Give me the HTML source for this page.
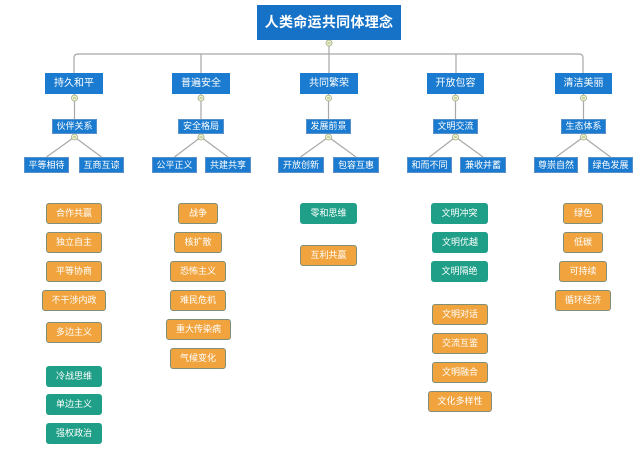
<!DOCTYPE html>
<html><head><meta charset="utf-8"><style>
html,body{margin:0;padding:0;background:#fff;}
body{width:642px;height:453px;position:relative;overflow:hidden;font-family:"Liberation Sans","Noto Sans CJK SC",sans-serif;}
.b{position:absolute;box-sizing:border-box;color:#fff;text-align:center;white-space:nowrap;}
.m{background:#1a7bd0;height:21px;line-height:21px;font-size:10px;}
.s{background:#1a7bd0;height:15px;line-height:13px;font-size:9px;border:1px solid #5a90c8;}
.l{background:#1a7bd0;height:16px;line-height:14px;font-size:9px;border:1px solid #5a90c8;}
.o{background:#f1a43e;border:1.5px solid #7f8f78;border-radius:3px;height:21px;line-height:18px;font-size:9px;}
.t{background:#1f9f87;border-radius:3px;height:21px;line-height:21px;font-size:9px;}
svg{position:absolute;left:0;top:0;}
</style></head><body>
<svg width="642" height="453" viewBox="0 0 642 453">
<g stroke="#a8a8a8" stroke-width="1.2" fill="none">
<path d="M329,40 V54"/>
<path d="M74,73 V58 Q74,54 78,54 H579 Q583,54 583,58 V73"/>
<path d="M201,54 V73 M329,54 V73 M456,54 V73"/>
<path d="M74.5,94 V119 M201,94 V119 M328.5,94 V119 M455.5,94 V119 M583.5,94 V119"/>
<path d="M74.5,137 L46.5,157 M74.5,137 L101.5,157"/>
<path d="M201,137 L174.5,157 M201,137 L228,157"/>
<path d="M328.5,137 L300.5,157 M328.5,137 L356,157"/>
<path d="M455.5,137 L429.5,157 M455.5,137 L483,157"/>
<path d="M583.5,137 L556,157 M583.5,137 L610.5,157"/>
</g>
<g fill="#eef3c8" stroke="#9aa88a" stroke-width="0.8">
<circle cx="329" cy="43" r="3"/>
<circle cx="74.5" cy="98" r="3"/><circle cx="201" cy="98" r="3"/><circle cx="328.5" cy="98" r="3"/><circle cx="455.5" cy="98" r="3"/><circle cx="583.5" cy="98" r="3"/>
<circle cx="74.5" cy="137" r="3"/><circle cx="201" cy="137" r="3"/><circle cx="328.5" cy="137" r="3"/><circle cx="455.5" cy="137" r="3"/><circle cx="583.5" cy="137" r="3"/>
</g>
<g stroke="#8a9a70" stroke-width="0.8">
<path d="M327.5,43 H330.5 M73,98 H76 M199.5,98 H202.5 M327,98 H330 M454,98 H457 M582,98 H585 M73,137 H76 M199.5,137 H202.5 M327,137 H330 M454,137 H457 M582,137 H585"/>
</g>
</svg>

<div class="b" style="left:257px;top:5px;width:144px;height:35px;line-height:35px;background:#1672c6;font-size:14px;font-weight:bold;letter-spacing:0.3px;">人类命运共同体理念</div>

<div class="b m" style="left:45px;top:73px;width:58px;">持久和平</div>
<div class="b m" style="left:172px;top:73px;width:58px;">普遍安全</div>
<div class="b m" style="left:300px;top:73px;width:58px;">共同繁荣</div>
<div class="b m" style="left:427px;top:73px;width:57px;">开放包容</div>
<div class="b m" style="left:555px;top:73px;width:57px;">清洁美丽</div>

<div class="b s" style="left:52px;top:119px;width:45px;">伙伴关系</div>
<div class="b s" style="left:178px;top:119px;width:46px;">安全格局</div>
<div class="b s" style="left:306px;top:119px;width:45px;">发展前景</div>
<div class="b s" style="left:433px;top:119px;width:45px;">文明交流</div>
<div class="b s" style="left:561px;top:119px;width:45px;">生态体系</div>

<div class="b l" style="left:24px;top:157px;width:45px;">平等相待</div>
<div class="b l" style="left:79px;top:157px;width:45px;">互商互谅</div>
<div class="b l" style="left:152px;top:157px;width:45px;">公平正义</div>
<div class="b l" style="left:205px;top:157px;width:46px;">共建共享</div>
<div class="b l" style="left:278px;top:157px;width:46px;">开放创新</div>
<div class="b l" style="left:333px;top:157px;width:46px;">包容互惠</div>
<div class="b l" style="left:407px;top:157px;width:45px;">和而不同</div>
<div class="b l" style="left:460px;top:157px;width:46px;">兼收并蓄</div>
<div class="b l" style="left:534px;top:157px;width:44px;">尊崇自然</div>
<div class="b l" style="left:588px;top:157px;width:45px;">绿色发展</div>

<!-- column 1 -->
<div class="b o" style="left:46px;top:203px;width:56px;">合作共赢</div>
<div class="b o" style="left:46px;top:232px;width:56px;">独立自主</div>
<div class="b o" style="left:46px;top:261px;width:56px;">平等协商</div>
<div class="b o" style="left:42px;top:290px;width:64px;">不干涉内政</div>
<div class="b o" style="left:46px;top:322px;width:56px;">多边主义</div>
<div class="b t" style="left:46px;top:366px;width:56px;">冷战思维</div>
<div class="b t" style="left:46px;top:394px;width:56px;">单边主义</div>
<div class="b t" style="left:46px;top:423px;width:56px;">强权政治</div>

<!-- column 2 -->
<div class="b o" style="left:178px;top:203px;width:40px;">战争</div>
<div class="b o" style="left:174px;top:232px;width:48px;">核扩散</div>
<div class="b o" style="left:170px;top:261px;width:56px;">恐怖主义</div>
<div class="b o" style="left:170px;top:290px;width:56px;">难民危机</div>
<div class="b o" style="left:166px;top:319px;width:65px;">重大传染病</div>
<div class="b o" style="left:170px;top:348px;width:56px;">气候变化</div>

<!-- column 3 -->
<div class="b t" style="left:300px;top:203px;width:57px;">零和思维</div>
<div class="b o" style="left:300px;top:245px;width:57px;">互利共赢</div>

<!-- column 4 -->
<div class="b t" style="left:431px;top:203px;width:57px;">文明冲突</div>
<div class="b t" style="left:432px;top:232px;width:56px;">文明优越</div>
<div class="b t" style="left:431px;top:261px;width:57px;">文明隔绝</div>
<div class="b o" style="left:432px;top:304px;width:56px;">文明对话</div>
<div class="b o" style="left:432px;top:333px;width:56px;">交流互鉴</div>
<div class="b o" style="left:432px;top:362px;width:56px;">文明融合</div>
<div class="b o" style="left:428px;top:391px;width:64px;">文化多样性</div>

<!-- column 5 -->
<div class="b o" style="left:563px;top:203px;width:40px;">绿色</div>
<div class="b o" style="left:563px;top:232px;width:40px;">低碳</div>
<div class="b o" style="left:559px;top:261px;width:48px;">可持续</div>
<div class="b o" style="left:555px;top:290px;width:56px;">循环经济</div>
</body></html>
